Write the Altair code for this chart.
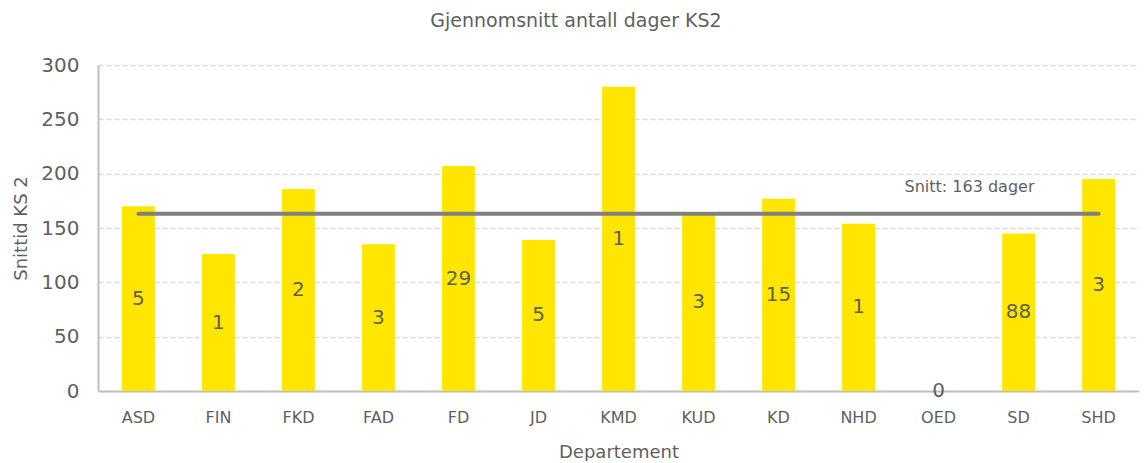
import altair as alt
import pandas as pd

departements = ["ASD", "FIN", "FKD", "FAD", "FD", "JD", "KMD", "KUD", "KD", "NHD", "OED", "SD", "SHD"]
snittid = [170, 126, 186, 135, 207, 139, 280, 164, 177, 154, 0, 145, 195]
antall = [5, 1, 2, 3, 29, 5, 1, 3, 15, 1, 0, 88, 3]
snitt_value = 163
snitt_label = "Snitt: 163 dager"

df = pd.DataFrame({"Departement": departements, "Snittid": snittid, "Antall": antall})
df["Mid"] = df["Snittid"] / 2

FONT = "DejaVu Sans"
TXT = "#5F5F5F"

x_enc = alt.X("Departement:N", sort=departements, title="Departement",
              scale=alt.Scale(paddingInner=0.59, paddingOuter=0.3),
              axis=alt.Axis(labelAngle=0, labelFontSize=16, labelColor=TXT, labelPadding=18,
                            titleFontSize=18, titleColor=TXT, titleFontWeight="normal", titlePadding=18,
                            ticks=False, domainColor="#BFBFBF", domainWidth=2, grid=False,
                            labelFont=FONT, titleFont=FONT))

base = alt.Chart(df)

bars = base.mark_bar(color="#FFE600").encode(
    x=x_enc,
    y=alt.Y("Snittid:Q", title="Snittid KS 2",
            scale=alt.Scale(domain=[0, 300]),
            axis=alt.Axis(values=[0, 50, 100, 150, 200, 250, 300], labelFontSize=20, labelColor=TXT,
                          labelPadding=19, titleFontSize=18, titleColor=TXT, titleFontWeight="normal",
                          titlePadding=10, ticks=False, domainColor="#BFBFBF", domainWidth=2,
                          gridColor="#D9D9D9", gridDash=[5, 3], gridWidth=1.5,
                          labelFont=FONT, titleFont=FONT)),
)

labels = base.mark_text(fontSize=20, color=TXT, font=FONT, baseline="middle").encode(
    x=alt.X("Departement:N", sort=departements),
    y=alt.Y("Mid:Q"),
    text=alt.Text("Antall:Q"),
)

rule_df = pd.DataFrame({"Departement": departements, "Snitt": [snitt_value] * len(departements)})
rule = alt.Chart(rule_df).mark_line(color="#808080", strokeWidth=4, strokeCap="round").encode(
    x=alt.X("Departement:N", sort=departements),
    y=alt.Y("Snitt:Q"),
)

lbl_df = pd.DataFrame({"Departement": ["NHD"], "Snitt": [snitt_value], "Label": [snitt_label]})
rule_label = alt.Chart(lbl_df).mark_text(fontSize=16, color=TXT, font=FONT, align="left", dx=46, dy=-27).encode(
    x=alt.X("Departement:N", sort=departements),
    y=alt.Y("Snitt:Q"),
    text="Label:N",
)

chart = alt.layer(bars, labels, rule, rule_label).properties(
    width=1041, height=326,
    padding={"left": 4, "top": 4, "right": 0, "bottom": 0},
    title=alt.TitleParams("Gjennomsnitt antall dager KS2", fontSize=19, color=TXT, font=FONT,
                          fontWeight="normal", anchor="middle", frame="bounds", offset=24),
).configure_view(stroke=None)

chart.save("out.html", embed_options={"renderer": "svg", "actions": False})
